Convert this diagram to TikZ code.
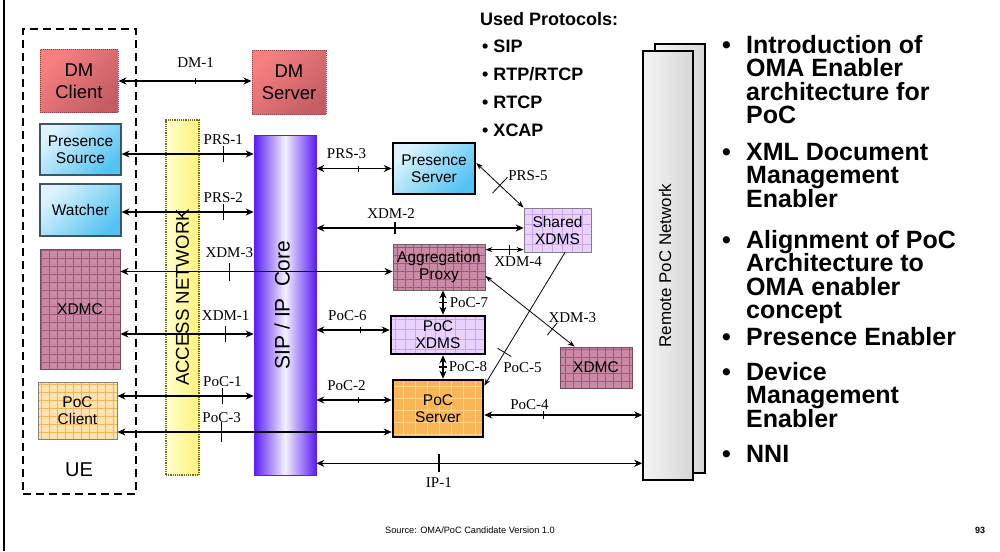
\documentclass[tikz,border=0pt]{standalone}
\usepackage{fontspec}
\setmainfont{Liberation Sans}
\newfontfamily\lblfont{Liberation Serif}
\usetikzlibrary{positioning,arrows.meta,decorations.markings}

\definecolor{dmlight}{HTML}{F6807F}
\definecolor{dmdark}{HTML}{C45D66}
\definecolor{dmline}{HTML}{9A3A44}
\definecolor{bluelight}{HTML}{DDF3FD}
\definecolor{bluedark}{HTML}{55C3F2}
\definecolor{blueline}{HTML}{3E5664}
\definecolor{mauve}{HTML}{C98AA3}
\definecolor{mauvegrid}{HTML}{A4557A}
\definecolor{mauveline}{HTML}{7A4A5E}
\definecolor{lilac}{HTML}{E9D2FF}
\definecolor{lilacgrid}{HTML}{C9A6EE}
\definecolor{paleorange}{HTML}{FEE2AE}
\definecolor{paleorangegrid}{HTML}{F5B457}
\definecolor{orange}{HTML}{F9B656}
\definecolor{orangegrid}{HTML}{FDD593}
\definecolor{yellowlight}{HTML}{FFFFCC}
\definecolor{yellowdark}{HTML}{FFF27A}
\definecolor{yellowline}{HTML}{6E6A20}
\definecolor{coreblue}{HTML}{5A1EF2}
\definecolor{corewhite}{HTML}{F4F0FF}
\definecolor{greylight}{HTML}{F4F4F4}
\definecolor{greydark}{HTML}{D6D6D6}

\newcommand{\itembul}{\makebox[24pt][l]{\textbullet}}
\newcommand{\itemgap}{\hspace*{24pt}}
\newcommand{\tightlines}{\lineskiplimit=-30pt\relax}

\begin{document}
\begin{tikzpicture}[x=1pt, y=-1pt, >={Stealth[length=8pt,width=7pt]},
  box/.style={inner sep=0pt, align=center,
    font={\fontsize{15.5}{17}\selectfont\tightlines}},
  dmbox/.style={box, draw=dmline, densely dotted, line width=1pt,
    left color=dmlight, right color=dmdark, shading angle=45,
    font={\fontsize{18.5}{22}\selectfont\tightlines}},
  bluebox/.style={box, draw=blueline, line width=1.2pt,
    left color=bluelight, right color=bluedark, shading angle=45},
  gridbox/.style n args={3}{box, fill=#1, path picture={
    \draw[#2, line width=.5pt, step=#3] (path picture bounding box.south west)
      grid (path picture bounding box.north east);}},
  mauvebox/.style={gridbox={mauve}{mauvegrid}{8pt}, draw=mauveline, line width=.8pt},
  lilacbox/.style={gridbox={lilac}{lilacgrid}{10pt}, draw=gray, line width=.8pt},
  boldframe/.style={draw=black, line width=2.5pt},
  arr/.style={<->, line width=1.6pt},
  thinarr/.style={<->, line width=.8pt, >={Stealth[length=7pt,width=5pt]}},
  crossbar/.style 2 args={postaction={decorate, decoration={markings,
    mark=at position #1 with {\draw[-, line width=1.4pt] (0pt,-#2) -- (0pt,#2);}}}},
  thincross/.style 2 args={postaction={decorate, decoration={markings,
    mark=at position #1 with {\draw[-, line width=.8pt] (0pt,-#2) -- (0pt,#2);}}}},
  lbl/.style={inner sep=0pt, font={\lblfont\fontsize{15}{15}\selectfont}},
  remote/.style={draw, line width=1.5pt, left color=greylight, right color=greydark},
  vtext/.style={rotate=90, inner sep=0pt},
  bigitem/.style={anchor=north west, inner sep=0pt, align=left,
    font={\bfseries\fontsize{25}{23.4}\selectfont\tightlines}}
]
\useasboundingbox (0,0) rectangle (1000,551);
\draw[line width=2pt] (4,0) -- (4,551);

% user equipment
\node (ue) [draw, dash pattern=on 8pt off 5pt, line width=2.4pt,
            minimum width=113pt, minimum height=465pt] at (79.5,261.5) {};
\node (uetext) [font=\fontsize{20}{20}\selectfont] at (79,470) {UE};
\node (dmc)   [dmbox, minimum width=78pt, minimum height=62pt] at (79,81) {DM\\Client};
\node (ps)    [bluebox, minimum width=81pt, minimum height=51pt] at (80.5,149.5) {Presence\\Source};
\node (wat)   [bluebox, minimum width=81pt, minimum height=52pt] at (80.5,210) {Watcher};
\node (xdmcl) [mauvebox, minimum width=80pt, minimum height=120pt] at (80,309) {XDMC};
\node (pocc)  [gridbox={paleorange}{paleorangegrid}{8pt}, draw=gray, line width=.8pt,
               minimum width=79pt, minimum height=57pt] at (77.5,410.5) {PoC\\Client};

% networks
\node (acc)  [draw=yellowline, densely dotted, line width=1.2pt,
              left color=yellowlight, right color=yellowdark,
              minimum width=33pt, minimum height=355pt] at (182.5,297.5) {};
\node (acctext) [vtext, font=\fontsize{18.6}{19}\selectfont] at (acc) {ACCESS NETWORK};
\node (core) [draw=coreblue, line width=.6pt, left color=coreblue, right color=coreblue,
              middle color=corewhite, minimum width=62pt, minimum height=340pt] at (285,305) {};
\node (coretext) [vtext, font=\fontsize{21}{21}\selectfont] at ([xshift=-3pt]core.center) {SIP / IP\ \ Core};

% servers
\node (dms)   [dmbox, minimum width=74pt, minimum height=63pt] at (289,82.5) {DM\\Server};
\node (prs)   [bluebox, boldframe, minimum width=82pt, minimum height=51pt] at (434,168.5) {Presence\\Server};
\node (sxdms) [lilacbox, minimum width=67pt, minimum height=44pt] at (557.5,230) {Shared\\XDMS};
\node (agg)   [mauvebox, draw=gray!80!black, minimum width=92pt, minimum height=46pt] at (439,267) {Aggregation\\Proxy};
\node (pxdms) [lilacbox, boldframe, minimum width=94pt, minimum height=38pt] at (438,335) {PoC\\XDMS};
\node (pocs)  [gridbox={orange}{orangegrid}{12pt}, boldframe,
               minimum width=90pt, minimum height=57pt] at (438,408.5) {PoC\\Server};
\node (xdmcr) [mauvebox, minimum width=72pt, minimum height=41pt] at (596,367.5) {XDMC};

% remote network
\node (remback) [remote, minimum width=50pt, minimum height=429pt] at (680,258.5) {};
\node (rem)     [remote, minimum width=50pt, minimum height=429pt] at (668,265.5) {};
\node (remtext) [vtext, font=\fontsize{16.9}{17}\selectfont] at ([xshift=-3pt]rem.center) {Remote PoC Network};

% reference points
\coordinate (prs1) at ([yshift=-4.5pt]ps.east);
\coordinate (prs2) at ([yshift=-2pt]wat.east);
\coordinate (xdm3) at ([yshift=-4.5pt]agg.west);
\coordinate (xdm1) at ([yshift=-25pt]xdmcl.east);
\coordinate (poc1) at ([yshift=14.5pt]pocc.east);
\coordinate (poc3) at ([yshift=-21.5pt]pocc.east);
\coordinate (xdm2) at ([yshift=2pt]sxdms.west);
\coordinate (poc6) at ([yshift=5pt]pxdms.west);
\coordinate (poc2) at ([yshift=8.5pt]pocs.west);
\coordinate (ip1)  at ([yshift=12pt]core.south east);
\coordinate (poc4) at ([yshift=-6.5pt]pocs.east);
\coordinate (xdm4) at ([yshift=-6pt]agg.north east);
\coordinate (poc7) at ([xshift=4pt]agg.south);
\coordinate (poc8) at ([xshift=5pt]pxdms.south);

% links
\draw[arr, crossbar={.58}{3pt}] (dmc.east) -- (dmc.east -| dms.west)
  node[lbl, pos=.58, above=13pt] {DM-1};
\draw[arr, crossbar={.77}{8pt}] (prs1) -- (prs1 -| core.west)
  node[lbl, pos=.77, above=9pt] {PRS-1};
\draw[arr, crossbar={.77}{8pt}] (prs2) -- (prs2 -| core.west)
  node[lbl, pos=.77, above=9pt] {PRS-2};
\draw[arr, crossbar={.40}{9pt}] (xdm3 -| xdmcl.east) -- (xdm3)
  node[lbl, pos=.40, above=13pt] {XDM-3};
\draw[arr, crossbar={.79}{8pt}] (xdm1) -- (xdm1 -| core.west)
  node[lbl, pos=.79, above=13pt] {XDM-1};
\draw[arr, crossbar={.77}{8pt}] (poc1) -- (poc1 -| core.west)
  node[lbl, pos=.77, above=9pt] {PoC-1};
\draw[arr, crossbar={.38}{10pt}] (poc3) -- (poc3 -| pocs.west)
  node[lbl, pos=.38, above=9pt] {PoC-3};
\draw[arr, crossbar={.56}{3pt}] (core.east |- prs.west) -- (prs.west)
  node[lbl, pos=.56, above=9pt, xshift=-12pt] {PRS-3};
\draw[arr, crossbar={.38}{6pt}] (core.east |- xdm2) -- (xdm2)
  node[lbl, pos=.38, above=9pt, xshift=-4pt] {XDM-2};
\draw[arr, crossbar={.6}{3pt}] (core.east |- poc6) -- (poc6)
  node[lbl, pos=.6, above=9pt, xshift=-13pt] {PoC-6};
\draw[arr, crossbar={.56}{3pt}] (core.east |- poc2) -- (poc2)
  node[lbl, pos=.56, above=9pt, xshift=-12pt] {PoC-2};
\draw[arr, crossbar={.376}{9pt}] (ip1) -- (ip1 -| rem.west)
  node[lbl, pos=.376, below=13pt] {IP-1};
\draw[arr, crossbar={.375}{4pt}] (poc4) -- (poc4 -| rem.west)
  node[lbl, pos=.375, above=5pt, xshift=-14pt] {PoC-4};
\draw[thinarr, thincross={.62}{5pt}] (xdm4) -- (xdm4 -| sxdms.west)
  node[lbl, pos=.62, below=7pt, xshift=9pt] {XDM-4};
\draw[arr, crossbar={.5}{4pt}] (poc7) -- (poc7 |- pxdms.north)
  node[lbl, pos=.5, right=6pt] {PoC-7};
\draw[arr, crossbar={.5}{4pt}] (poc8) -- (poc8 |- pocs.north)
  node[lbl, pos=.5, right=5pt] {PoC-8};
\draw[thinarr, thincross={.5}{11pt}] ([yshift=5.5pt]prs.east) -- (sxdms.north west)
  node[lbl, pos=.5, xshift=28pt, yshift=10pt] {PRS-5};
\draw[thinarr, thincross={.75}{8pt}] ([yshift=-9pt]agg.east) -- ([xshift=15pt]xdmcr.north west)
  node[lbl, pos=.75, xshift=20pt, yshift=11pt] {XDM-3};
\draw[thinarr, ->, thincross={.75}{8pt}] ([xshift=7.5pt]sxdms.south) -- ([yshift=-7pt]pocs.north east)
  node[lbl, pos=.75, xshift=18pt, yshift=-15pt] {PoC-5};

% protocols
\node (proto) [anchor=north west, inner sep=0pt, align=left,
               font=\bfseries\fontsize{18}{27.7}\selectfont] at (480,12)
  {Used Protocols:\\\hspace*{2pt}\textbullet\ SIP\\\hspace*{2pt}\textbullet\ RTP/RTCP\\
   \hspace*{2pt}\textbullet\ RTCP\\\hspace*{2pt}\textbullet\ XCAP};

% key points
\node (it1) [bigitem] at (722,35)
  {\itembul Introduction of\\\itemgap OMA Enabler\\\itemgap architecture for\\\itemgap PoC};
\node (it2) [bigitem] at (722,143)
  {\itembul XML Document\\\itemgap Management\\\itemgap Enabler};
\node (it3) [bigitem] at (722,230)
  {\itembul Alignment of PoC\\\itemgap Architecture to\\\itemgap OMA enabler\\\itemgap concept};
\node (it4) [bigitem] at (722,327) {\itembul Presence Enabler};
\node (it5) [bigitem] at (722,362)
  {\itembul Device\\\itemgap Management\\\itemgap Enabler};
\node (it6) [bigitem] at (722,445) {\itembul NNI};

% footer
\node (src) [font=\fontsize{9.2}{10}\selectfont] at (470,530) {Source: OMA/PoC Candidate Version 1.0};
\node (page) [font=\bfseries\fontsize{9}{10}\selectfont] at (980,530) {93};
\end{tikzpicture}
\end{document}
